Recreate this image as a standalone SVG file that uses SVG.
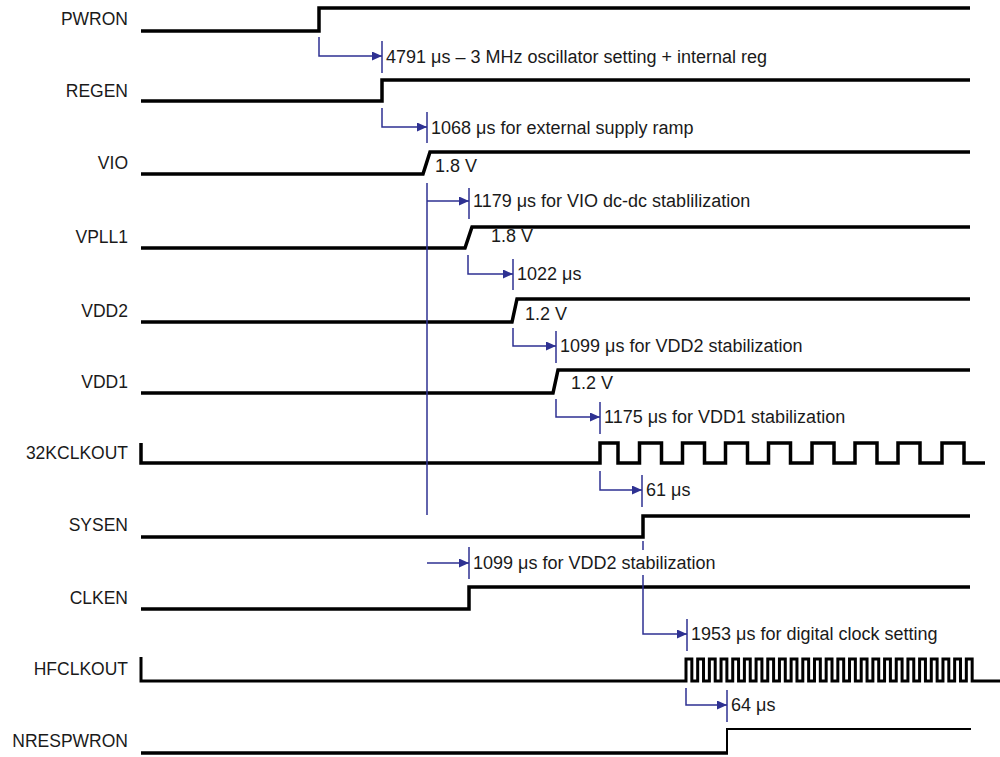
<svg xmlns="http://www.w3.org/2000/svg" width="1000" height="757" viewBox="0 0 1000 757">
<style>
.sig{fill:none;stroke:#000;stroke-width:3.5;stroke-linejoin:miter;stroke-linecap:butt}
.thin{fill:none;stroke:#000;stroke-width:2}
.lbl{font-family:"Liberation Sans",Arial,sans-serif;font-size:17.5px;fill:#1a1a1a;text-anchor:end}
.ann{font-family:"Liberation Sans",Arial,sans-serif;font-size:18px;fill:#1a1a1a}
.con{fill:none;stroke:#2e3192;stroke-width:1.5}
.arr{fill:none;stroke:#2e3192;stroke-width:1.5;marker-end:url(#ah)}
</style>
<defs>
<marker id="ah" markerUnits="userSpaceOnUse" markerWidth="10" markerHeight="9" refX="10" refY="4.5" orient="auto">
<path d="M0,0 L10,4.5 L0,9 Z" fill="#2e3192"/>
</marker>
</defs>
<rect width="1000" height="757" fill="#fff"/>
<g id="PWRON"><text class="lbl" x="128" y="25">PWRON</text><path class="sig" d="M141,31 H319 V8 H970"/></g>
<g id="REGEN"><text class="lbl" x="128" y="97">REGEN</text><path class="sig" d="M141,101 H382 V80 H970"/></g>
<g id="VIO"><text class="lbl" x="128" y="169">VIO</text><path class="sig" d="M141,174 H423 L430,152 H970"/><text class="ann" x="435" y="172">1.8 V</text></g>
<g id="VPLL1"><text class="lbl" x="128" y="243">VPLL1</text><path class="sig" d="M141,248 H465 L472,227 H970"/><text class="ann" x="491" y="242">1.8 V</text></g>
<g id="VDD2"><text class="lbl" x="128" y="317">VDD2</text><path class="sig" d="M141,322 H512 L517,299 H970"/><text class="ann" x="525" y="320">1.2 V</text></g>
<g id="VDD1"><text class="lbl" x="128" y="388">VDD1</text><path class="sig" d="M141,393 H553 L558,370 H970"/><text class="ann" x="571" y="389">1.2 V</text></g>
<g id="32KCLKOUT"><text class="lbl" x="128" y="459">32KCLKOUT</text><path class="sig" d="M141,443 V463 H600 V443 H618 V463 H639.5 V443 H661.5 V463 H682.5 V443 H704.5 V463 H725.5 V443 H747.5 V463 H768.5 V443 H790.5 V463 H812 V443 H834 V463 H855 V443 H877 V463 H898 V443 H920 V463 H942 V443 H964 V463 H985"/></g>
<g id="SYSEN"><text class="lbl" x="128" y="531">SYSEN</text><path class="sig" d="M141,537 H643 V516 H970"/></g>
<g id="CLKEN"><text class="lbl" x="128" y="604">CLKEN</text><path class="sig" d="M141,609 H469 V587 H970"/></g>
<g id="HFCLKOUT"><text class="lbl" x="128" y="675">HFCLKOUT</text><path class="sig" style="stroke-width:3" d="M141,657 V681 H686
v-22 h5.84 v22 h5.84 v-22 h5.84 v22 h5.84 v-22 h5.84 v22 h5.84 v-22 h5.84 v22 h5.84 v-22 h5.84 v22 h5.84 v-22 h5.84 v22 h5.84
v-22 h5.84 v22 h5.84 v-22 h5.84 v22 h5.84 v-22 h5.84 v22 h5.84 v-22 h5.84 v22 h5.84 v-22 h5.84 v22 h5.84 v-22 h5.84 v22 h5.84
v-22 h5.84 v22 h5.84 v-22 h5.84 v22 h5.84 v-22 h5.84 v22 h5.84 v-22 h5.84 v22 h5.84 v-22 h5.84 v22 h5.84 v-22 h5.84 v22 h5.84
v-22 h5.84 v22 h5.84 v-22 h5.84 v22 h5.84 v-22 h5.84 v22 h5.84 v-22 h5.84 v22 h5.84 v-22 h5.84 v22 h5.84 v-22 h5.84 v22 h5.84
v-22 h5.84 v22 H1000"/></g>
<g id="NRESPWRON"><text class="lbl" x="128" y="747">NRESPWRON</text><path class="sig" d="M141,753 H728"/><path class="thin" d="M727,754 V729 H971"/></g>
<g id="connectors">
<path class="arr" d="M319,37 V56 H382"/><path class="con" d="M382,41 V73"/>
<text class="ann" x="386" y="63">4791 μs – 3 MHz oscillator setting + internal reg</text>
<path class="arr" d="M382,108 V127 H427"/><path class="con" d="M427,112 V143"/>
<text class="ann" x="431" y="134">1068 μs for external supply ramp</text>
<path class="con" d="M427,183 V515"/><path class="arr" d="M427,201 H469"/><path class="con" d="M469,188 V219"/>
<text class="ann" x="473" y="207">1179 μs for VIO dc-dc stablilization</text>
<path class="arr" d="M468,255 V274 H513"/><path class="con" d="M513,259 V290"/>
<text class="ann" x="517" y="280">1022 μs</text>
<path class="arr" d="M513,328 V346 H556"/><path class="con" d="M556,331 V363"/>
<text class="ann" x="560" y="352">1099 μs for VDD2 stabilization</text>
<path class="arr" d="M556,399 V417 H600"/><path class="con" d="M600,402 V434"/>
<text class="ann" x="604" y="423">1175 μs for VDD1 stabilization</text>
<path class="arr" d="M600,471 V490 H642"/><path class="con" d="M642,475 V507"/>
<text class="ann" x="646" y="496">61 μs</text>
<path class="arr" d="M427,563 H469"/><path class="con" d="M469,547 V579"/>
<text class="ann" x="473" y="569">1099 μs for VDD2 stabilization</text>
<path class="con" d="M643,541 V550"/><path class="arr" d="M643,575 V634 H687"/><path class="con" d="M687,619 V651"/>
<text class="ann" x="691" y="640">1953 μs for digital clock setting</text>
<path class="arr" d="M686,688 V705 H727"/><path class="con" d="M727,690 V722"/>
<text class="ann" x="731" y="711">64 μs</text>
</g>
</svg>
